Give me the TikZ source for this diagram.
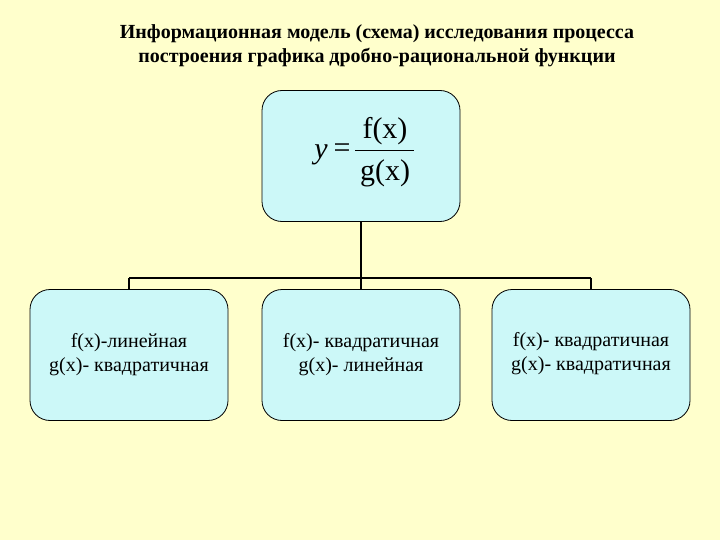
\documentclass[tikz,border=0pt]{standalone}
\usepackage{fontspec}
\setmainfont{Liberation Serif}
\definecolor{bgcol}{HTML}{FFFFCC}
\definecolor{boxcol}{HTML}{CCF8F8}
\begin{document}
\begin{tikzpicture}[x=1pt,y=-1pt,
  box/.style={draw=black, line width=0.8pt, fill=boxcol, rounded corners=20pt, minimum width=198pt, minimum height=131pt, inner sep=0pt, align=center, font=\fontsize{20}{24}\selectfont},
  frmtext/.style={inner sep=0pt, font=\fontsize{30}{32}\selectfont},
  conn/.style={line width=2.4pt, black}]
\fill[bgcol] (0,0) rectangle (720,540);
\useasboundingbox (0,0) rectangle (720,540);
\node (title) at (377,46) [align=center, font=\bfseries\fontsize{20}{24}\selectfont] {Информационная модель (схема) исследования процесса\\построения графика дробно-рациональной функции};
\node[box] (top) at (361,156) {};
\node[frmtext, font=\itshape\fontsize{30}{32}\selectfont] (fy) at (321,155) {y};
\node[frmtext] (feq) at (342,151) {=};
\node[frmtext] (fnum) at (385,131) {f(x)};
\node[frmtext] (fden) at (385,173) {g(x)};
\coordinate (barl) at (355,151);
\coordinate (barr) at (414,151);
\draw[line width=1pt] (barl) -- (barr);
\node[box] (b1) at (129,355) {f(x)-линейная\\g(x)- квадратичная};
\node[box] (b2) at (361,355) {f(x)- квадратичная\\g(x)- линейная};
\node[box] (b3) at (591,355) {f(x)- квадратичная\\g(x)- квадратичная\\[-16pt]\mbox{}};
\coordinate (j) at (361,278);
\draw[conn] (top.south) -- (j);
\draw[conn] (b1.north |- j) -- (b3.north |- j);
\draw[conn] (b1.north |- j) -- (b1.north);
\draw[conn] (j) -- (b2.north);
\draw[conn] (b3.north |- j) -- (b3.north);
\end{tikzpicture}
\end{document}
